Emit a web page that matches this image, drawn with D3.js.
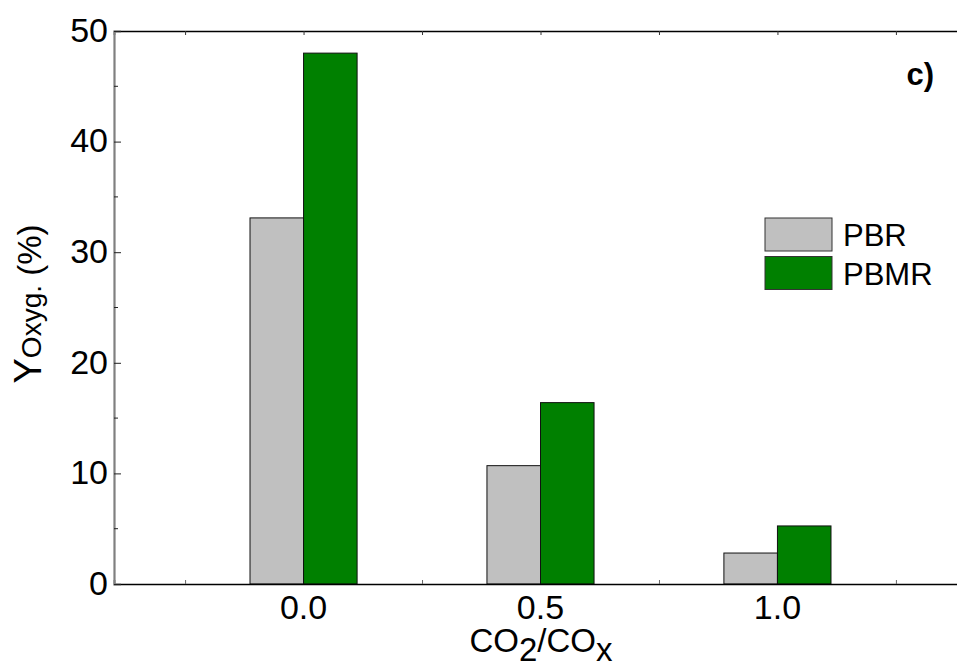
<!DOCTYPE html>
<html>
<head>
<meta charset="utf-8">
<script src="https://cdn.jsdelivr.net/npm/d3@7"></script>
<style>
  html, body { margin: 0; padding: 0; background: #fff; }
  svg { display: block; font-family: "Liberation Sans", Arial, sans-serif; }
</style>
</head>
<body>
<svg id="chart" width="957" height="671"></svg>
<script>
// CO2/COx ratio categories and oxygen yield (%) per reactor type
const ratios = [0.0, 0.5, 1.0];
const ratioLabels = ["0.0", "0.5", "1.0"];
const pbrValues = [33.1, 10.7, 2.8];
const pbmrValues = [48.0, 16.4, 5.25];
const seriesNames = ["PBR", "PBMR"];
const seriesColors = ["#c0c0c0", "#008000"];
const yTicks = [0, 10, 20, 30, 40, 50];

const svg = d3.select("#chart");

const x = d3.scaleLinear().domain([-0.4, 1.4]).range([114, 967]);
const y = d3.scaleLinear().domain([0, 50]).range([584, 31]);
const barW = 0.113; // bar width in data units

// bars: PBR left of the category position, PBMR right of it
const seriesVals = [pbrValues, pbmrValues];
seriesVals.forEach((vals, si) => {
  svg.append("g").selectAll("rect")
    .data(ratios.map((r, i) => ({ r, v: vals[i] })))
    .join("rect")
    .attr("x", d => x(si === 0 ? d.r - barW : d.r))
    .attr("width", d => x(d.r + barW) - x(d.r))
    .attr("y", d => y(d.v))
    .attr("height", d => y(0) - y(d.v))
    .attr("fill", seriesColors[si])
    .attr("stroke", "#111")
    .attr("stroke-width", 1);
});

// top frame line with inward ticks
const qTicks = d3.range(-0.25, 1.3, 0.25);
const topAxis = svg.append("g").attr("transform", `translate(0,${y(50)})`)
  .call(d3.axisTop(x).tickValues(qTicks).tickSize(-4).tickFormat(""));
topAxis.select(".domain").attr("stroke", "#000").attr("stroke-width", 1.5);
topAxis.selectAll(".tick line").attr("stroke", "#333");

// bottom axis: line, minor inward ticks between categories, category labels
const bottomAxis = svg.append("g").attr("transform", `translate(0,${y(0)})`)
  .call(d3.axisBottom(x).tickValues([-0.25, 0.25, 0.75, 1.25]).tickSize(-4).tickFormat(""));
bottomAxis.select(".domain").attr("stroke", "#000").attr("stroke-width", 1.5);
bottomAxis.selectAll(".tick line").attr("stroke", "#666");

svg.append("g").selectAll("text")
  .data(ratios)
  .join("text")
  .attr("x", d => x(d))
  .attr("y", 619)
  .attr("text-anchor", "middle")
  .attr("font-size", 34)
  .attr("fill", "#000")
  .text((d, i) => ratioLabels[i]);

// left axis
const yMinor = d3.range(5, 50, 10);
const leftAxis = svg.append("g").attr("transform", `translate(${x(-0.4)},0)`);
leftAxis.call(d3.axisLeft(y).tickValues(yTicks).tickSize(-7).tickFormat(""));
leftAxis.select(".domain").attr("stroke", "#808080").attr("stroke-width", 2.2);
leftAxis.selectAll(".tick line").attr("stroke", "#222");
leftAxis.append("g").selectAll("line")
  .data(yMinor).join("line")
  .attr("x1", 0).attr("x2", 4)
  .attr("y1", d => y(d)).attr("y2", d => y(d))
  .attr("stroke", "#222");

svg.append("g").selectAll("text")
  .data(yTicks)
  .join("text")
  .attr("x", 108)
  .attr("y", d => y(d) - 1.5)
  .attr("dy", "0.36em")
  .attr("text-anchor", "end")
  .attr("font-size", 34)
  .attr("fill", "#000")
  .text(d => d);

// y-axis title
const yTitle = svg.append("text")
  .attr("transform", "translate(41,304) rotate(-90)")
  .attr("text-anchor", "middle")
  .attr("fill", "#000");
yTitle.append("tspan").attr("font-size", 38).text("Y");
yTitle.append("tspan").attr("font-size", 28).text("Oxyg.");
yTitle.append("tspan").attr("font-size", 33).text("\u00a0(%)");

// x-axis title: CO2/COx
const xTitle = svg.append("text")
  .attr("x", 541).attr("y", 652)
  .attr("text-anchor", "middle")
  .attr("font-size", 33)
  .attr("fill", "#000");
xTitle.append("tspan").text("CO");
xTitle.append("tspan").attr("dy", 9).text("2");
xTitle.append("tspan").attr("dy", -9).text("/CO");
xTitle.append("tspan").attr("dy", 9).text("x");

// panel tag
svg.append("text")
  .attr("x", 934).attr("y", 85)
  .attr("text-anchor", "end")
  .attr("font-size", 31)
  .attr("font-weight", "bold")
  .attr("fill", "#000")
  .text("c)");

// legend
const legend = svg.append("g");
seriesNames.forEach((name, i) => {
  const g = legend.append("g").attr("transform", `translate(765,${218 + i * 38.5})`);
  g.append("rect")
    .attr("width", 67).attr("height", 33)
    .attr("fill", seriesColors[i])
    .attr("stroke", "#333").attr("stroke-width", 1);
  g.append("text")
    .attr("x", 78).attr("y", 28)
    .attr("font-size", 31)
    .attr("fill", "#000")
    .text(name);
});
</script>
</body>
</html>
